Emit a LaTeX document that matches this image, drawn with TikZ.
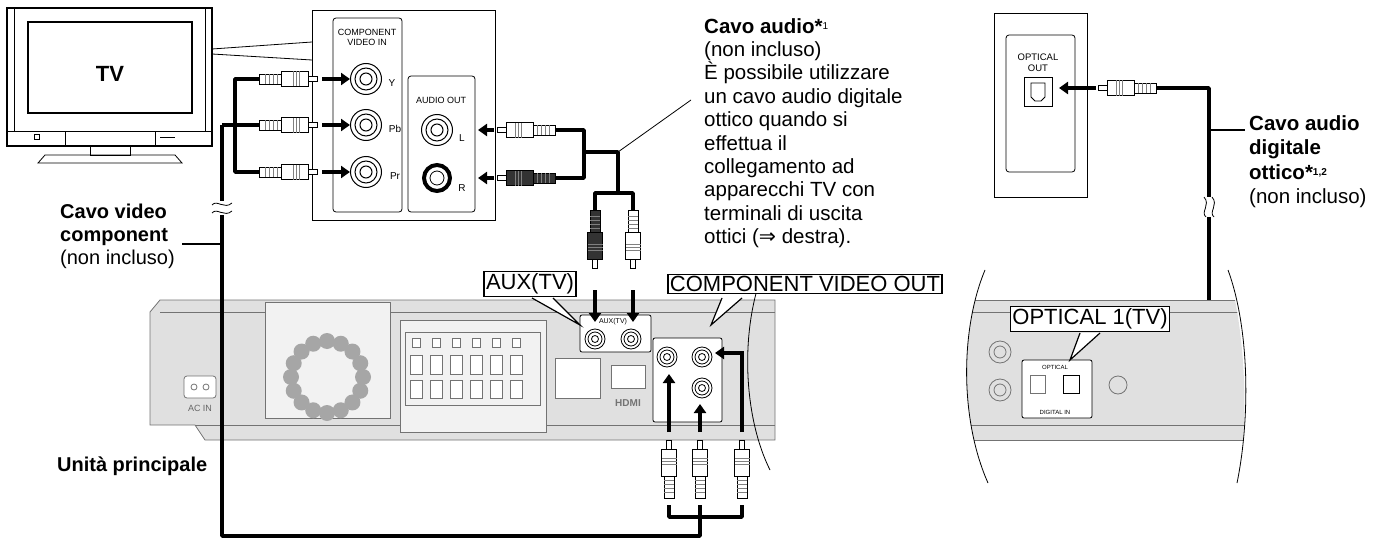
\documentclass[tikz,border=0pt]{standalone}
\usepackage{fontspec}
\setmainfont{Liberation Sans}
\newfontfamily\symfont{DejaVu Sans}
\usetikzlibrary{arrows.meta}
\tikzset{
  cable/.style={line width=3.5pt, line join=round},
  push/.style={line width=4pt, -{Triangle[length=9pt,width=12pt]}},
  thin/.style={line width=0.8pt},
  grey/.style={draw=black!55, fill=black!12, line width=0.8pt},
  lbl/.style={draw, fill=white, line width=1.2pt, inner sep=2pt, font=\fontsize{22}{22}\selectfont},
  txt/.style={align=left, anchor=north west, font=\fontsize{20.5}{23.4}\selectfont, inner sep=0pt},
  pics/rca/.style={code={
    \draw[thin, fill=white] (0,-2.5) rectangle (-9,2.5);
    \draw[thin, fill=#1] (-9,-7.5) rectangle (-36,7.5);
    \foreach \s in {-18,-21,-24} \draw[thin, draw=black!50] (\s,-7.5) -- (\s,7.5);
    \draw[thin, fill=#1] (-36,-5) rectangle (-58,5);
    \foreach \s in {-40,-44,-48,-52} \draw[thin, draw=black!50] (\s,-5) -- (\s,5);
  }},
  pics/jack/.style={code={
    \draw[line width=1pt] (0,0) circle (15.5);
    \draw[line width=1pt] (0,0) circle (11);
    \draw[line width=1pt] (0,0) circle (6);
  }},
  pics/small jack/.style={code={
    \draw[line width=0.8pt, fill=white] (0,0) circle (10);
    \draw[line width=0.8pt] (0,0) circle (7);
    \draw[line width=0.8pt] (0,0) circle (3.5);
  }},
  pics/wave/.style={code={
    \fill[white] (-10,-7) rectangle (10,7);
    \draw[thin] (-10,-3) .. controls (-5,-9) and (2,2) .. (10,-5);
    \draw[thin] (-10,5) .. controls (-5,-1) and (2,10) .. (10,3);
  }}
}
\begin{document}
\begin{tikzpicture}[x=1pt,y=-1pt]
\useasboundingbox (0,0) rectangle (1379,543);
% TV
\draw[line width=1.2pt, fill=white] (7,8) rectangle (212,146);
\draw[thin] (14,8) -- (14,131) (205,8) -- (205,131);
\draw[line width=1.2pt] (28,22) rectangle (192,113);
\draw[thin] (7,131) -- (212,131) (65,131) -- (65,146) (155,131) -- (155,146);
\draw[thin] (34,134) rectangle (39,139) (160,137) -- (175,137);
\draw[thin] (90,146) rectangle (130,155);
\draw[thin] (38,163) -- (45,155) -- (175,155) -- (182,163) -- cycle;
\node[font=\bfseries\fontsize{22}{22}\selectfont] (tv) at (110,74) {TV};
% TV rear panel
\draw[thin] (212,49) -- (312,42) (212,54) -- (312,60);
\draw[thin, fill=white] (312,10) rectangle (495,220);
\draw[thin, rounded corners=3pt] (333,18) rectangle (402,212);
\draw[thin, rounded corners=3pt] (408,76) rectangle (475,212);
\node[font=\fontsize{9}{10}\selectfont, align=center] (cvin) at (367,37) {COMPONENT\\VIDEO IN};
\node[font=\fontsize{9}{10}\selectfont] (aout) at (441,100) {AUDIO OUT};
\pic at (366,79) {jack}; \pic at (366,125) {jack}; \pic at (366,172) {jack};
\pic at (437,130) {jack};
\draw[line width=4pt] (437,178) circle (13); \draw[thin] (437,178) circle (7);
\node[font=\fontsize{10}{10}\selectfont] (ly) at (392,83) {Y};
\node[font=\fontsize{10}{10}\selectfont] (lpb) at (395,129) {P\textsc{b}};
\node[font=\fontsize{10}{10}\selectfont] (lpr) at (395,176) {P\textsc{r}};
\node[font=\fontsize{10}{10}\selectfont] (ll) at (462,138) {L};
\node[font=\fontsize{10}{10}\selectfont] (lr) at (462,188) {R};
% main unit, left part
\draw[grey] (150,312) -- (160,300) -- (775,300) -- (775,440) -- (205,440) -- (195,425) -- (150,425) -- cycle;
\draw[thin, draw=black!55] (160,312) -- (775,312);
\draw[thin, draw=black!55] (195,425) -- (775,425);
\draw[thin, draw=black!55, fill=white, rounded corners=3pt] (184,376) rectangle (216,398);
\draw[thin, draw=black!55] (194,387) circle (3) (206,387) circle (3);
\node[font=\fontsize{9}{9}\selectfont, text=black!60] (acin) at (200,408) {AC IN};
\draw[thin, draw=black!55, fill=black!5] (265,302) rectangle (390,418);
\foreach \a in {0,22.5,...,337.5} \fill[black!35] (327,377) ++(\a:36) circle (8);
\draw[thin, draw=black!55, fill=black!5] (400,320) rectangle (546,432);
\draw[thin, draw=black!55] (405,332) rectangle (540,405);
\foreach \i in {0,...,5} {
  \draw[thin, draw=black!55, fill=white] (412+\i*20,338) rectangle (420+\i*20,347);
  \draw[thin, draw=black!55, fill=white] (410+\i*20,355) rectangle (422+\i*20,374);
  \draw[thin, draw=black!55, fill=white] (410+\i*20,380) rectangle (422+\i*20,398);
}
\draw[thin, draw=black!55, fill=white] (555,358) rectangle (600,398);
\draw[thin, draw=black!55, fill=white] (611,365) rectangle (645,388);
\node[font=\bfseries\fontsize{10}{10}\selectfont, text=black!55] (hdmi) at (628,403) {HDMI};
% AUX(TV) and component out on unit
\draw[thin, fill=white, rounded corners=2pt] (580,315) rectangle (651,352);
\pic at (595,339) {small jack}; \pic at (631,339) {small jack};
\node[font=\fontsize{7}{7}\selectfont] (auxs) at (613,322) {AUX(TV)};
\draw[thin, fill=white, rounded corners=2pt] (653,338) rectangle (722,422);
\pic at (667,357) {small jack}; \pic at (702,357) {small jack}; \pic at (702,388) {small jack};
\draw[thin, draw=black] (760,280) .. controls (740,340) and (745,420) .. (770,470);
% callout labels
\node[lbl] (aux) at (530,284) {AUX(TV)};
\node[lbl] (cvo) at (805,284) {COMPONENT VIDEO OUT};
\draw[line width=1.2pt, fill=white] (532,298) -- (580,325) -- (553,298);
\draw[line width=1.2pt, fill=white] (722,298) -- (711,325) -- (742,298);
% component cable
\foreach \y in {79,125,172} \pic at (317,\y) {rca=white};
\draw[cable] (259,79) -- (235,79) -- (235,172) -- (259,172);
\draw[cable] (259,125) -- (222,125);
\draw[cable] (222,125) -- (222,536) -- (700,536) -- (700,505);
\draw[cable] (669,505) -- (669,517) -- (742,517) -- (742,505);
\pic at (222,208) {wave};
\foreach \y in {79,125,172} \draw[push] (322,\y) -- (350,\y);
\foreach \x in {669,700,742} \pic[rotate=90] at (\x,440) {rca=white};
\draw[push] (669,432) -- (669,374);
\draw[push] (700,432) -- (700,404);
\draw[push] (742,432) -- (742,353) -- (715,353);
% audio cable
\pic[rotate=180] at (497,130) {rca=white};
\pic[rotate=180] at (497,178) {rca=black!80};
\draw[cable] (555,130) -- (584,130) -- (584,178) -- (555,178);
\draw[cable] (584,152) -- (618,152) -- (618,193) -- (595,193) -- (595,210);
\draw[cable] (618,193) -- (633,193) -- (633,210);
\pic[rotate=-90] at (595,268) {rca=black!80};
\pic[rotate=-90] at (633,268) {rca=white};
\foreach \y in {130,178} \draw[push] (494,\y) -- (478,\y);
\draw[push] (595,290) -- (595,322);
\draw[push] (633,290) -- (633,322);
\draw[thin] (618,152) -- (691,100);
% texts left
\node[txt, font=\fontsize{20}{23}\selectfont] (cvc) at (60,204) {\textbf{Cavo video}\\\textbf{component}\\(non incluso)};
\draw[line width=1.5pt] (182,244) -- (222,244);
\node[txt, font=\bfseries\fontsize{20}{23}\selectfont] (unit) at (57,457) {Unità principale};
% audio text
\node[txt] (ca) at (704,18) {\textbf{Cavo audio*}\raisebox{4pt}{\fontsize{10}{10}\selectfont 1}\\(non incluso)\\È possibile utilizzare\\un cavo audio digitale\\ottico quando si\\effettua il\\collegamento ad\\apparecchi TV con\\terminali di uscita\\ottici ({\symfont ⇒} destra).};
% right: wall panel
\draw[thin, fill=white] (994,13) rectangle (1087,197);
\draw[thin, rounded corners=3pt] (1006,35) rectangle (1075,172);
\node[font=\fontsize{9.5}{11}\selectfont, align=center] (oout) at (1038,63) {OPTICAL\\OUT};
\draw[line width=1pt] (1024,78) rectangle (1052,106);
\draw[thin] (1031,83) -- (1031,97) -- (1035,101) -- (1041,101) -- (1045,97) -- (1045,83) -- cycle;
\pic[rotate=180] at (1098,88) {rca=white};
\draw[push] (1096,88) -- (1059,88);
\draw[cable] (1156,88) -- (1209,88) -- (1209,385) -- (1180,385);
\pic at (1126,385) {rca=white};
\draw[push] (1122,385) -- (1089,385);
\pic[rotate=90] at (1209,207) {wave};
\draw[line width=1.5pt] (1209,130) -- (1245,130);
\node[txt, font=\fontsize{20.5}{24.5}\selectfont] (cod) at (1249,115) {\textbf{Cavo audio}\\\textbf{digitale}\\\textbf{ottico*}\raisebox{4pt}{\fontsize{10}{10}\selectfont\bfseries 1,2}\\(non incluso)};
% right main unit fragment
\begin{scope}
\clip (985,270) .. controls (960,330) and (960,420) .. (988,483) -- (1237,483) .. controls (1250,420) and (1245,330) .. (1228,270) -- cycle;
\draw[grey] (900,300) rectangle (1400,440);
\draw[thin, draw=black!55] (900,312) -- (1400,312);
\draw[thin, draw=black!55] (900,425) -- (1400,425);
\draw[thin, draw=black!55] (1000,352) circle (11) (1000,352) circle (6);
\draw[thin, draw=black!55] (1000,390) circle (11) (1000,390) circle (6);
\draw[thin, fill=white, rounded corners=2pt] (1022,360) rectangle (1092,418);
\draw[thin, draw=black!55] (1030,375) rectangle (1045,393);
\draw[thin] (1063,375) rectangle (1079,393);
\node[font=\fontsize{6}{6}\selectfont] (opt) at (1055,367) {OPTICAL};
\node[font=\fontsize{6}{6}\selectfont] (din) at (1055,412) {DIGITAL IN};
\draw[thin, draw=black!55] (1118,385) circle (9);
\end{scope}
\draw[thin] (985,270) .. controls (960,330) and (960,420) .. (988,483);
\draw[thin] (1228,270) .. controls (1250,330) and (1250,420) .. (1237,483);
\node[lbl] (o1) at (1090,319) {OPTICAL 1(TV)};
\draw[line width=1.2pt, fill=white] (1080,333) -- (1070,360) -- (1100,333);
\end{tikzpicture}
\end{document}
